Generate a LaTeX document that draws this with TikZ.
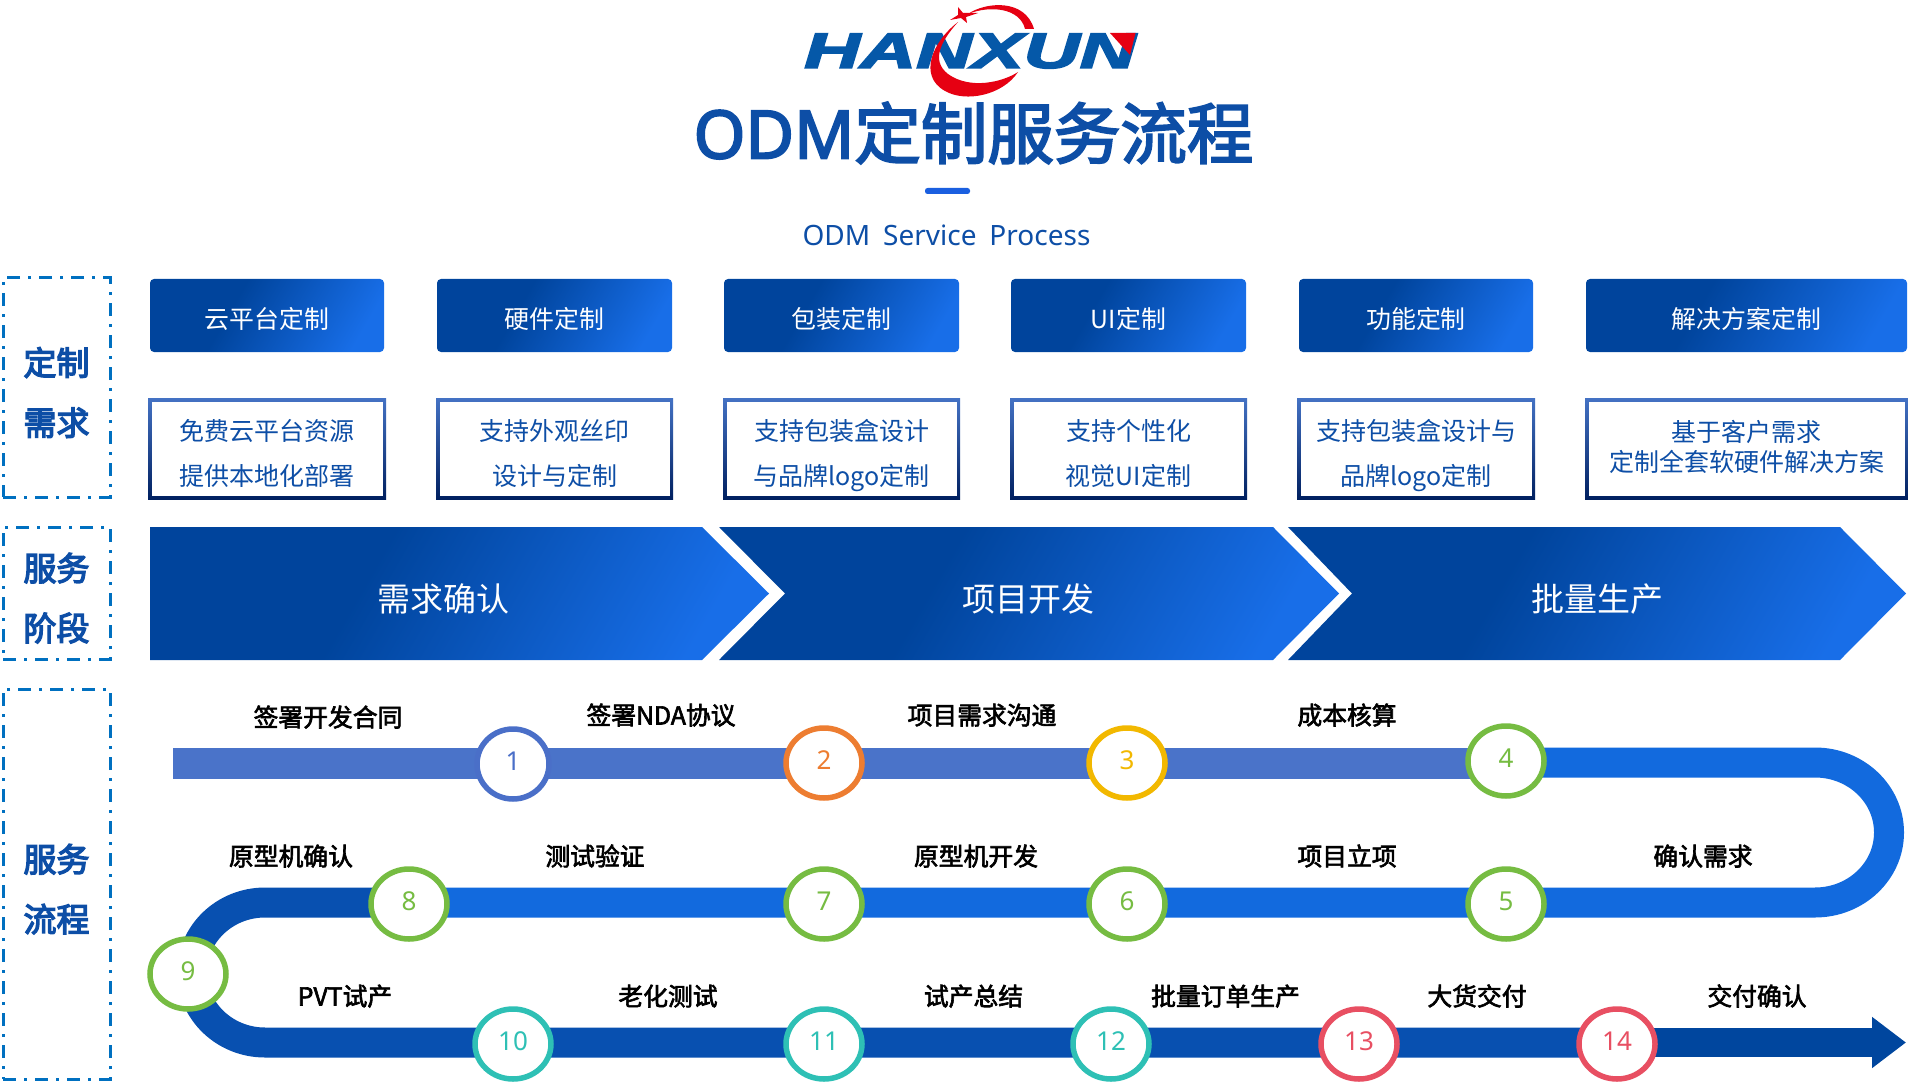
\documentclass[tikz,border=0pt]{standalone}
\usepackage{fontspec}
\setmainfont{Noto Sans CJK SC}
\newfontfamily\latinf{Noto Sans}
\newfontfamily\heavyf[FakeBold=2.5]{Noto Sans CJK SC}
\newfontfamily\sidef[FakeBold=4]{Noto Sans CJK SC}
\newfontfamily\titlef[FakeBold=3]{Noto Sans CJK SC}
\newfontfamily\titlelatinf[FakeBold=3]{Noto Sans}
\newfontfamily\logof[FakeBold=3]{Liberation Sans}
\usetikzlibrary{positioning, shapes.geometric, arrows.meta, backgrounds}

\definecolor{hxdark}{HTML}{00449C}
\definecolor{hxbright}{HTML}{186EE8}
\definecolor{hxtext}{HTML}{0D4EA6}
\definecolor{hxdash}{HTML}{0070C0}
\definecolor{hxred}{HTML}{E60012}
\definecolor{hxlogo}{HTML}{0558A8}
\definecolor{hxbar}{HTML}{1A5FE0}
\definecolor{ringtop}{HTML}{4472C4}
\definecolor{ringbot}{HTML}{002060}
\definecolor{rowone}{HTML}{4A73C9}
\definecolor{rowtwo}{HTML}{126ADE}
\definecolor{rowthree}{HTML}{0850B0}
\definecolor{rowend}{HTML}{00469E}
\definecolor{stepblue}{HTML}{4A6FC8}
\definecolor{steporange}{HTML}{ED7D31}
\definecolor{stepyellow}{HTML}{F2B800}
\definecolor{stepgreen}{HTML}{76BC42}
\definecolor{stepteal}{HTML}{2EC0B5}
\definecolor{stepred}{HTML}{E84F62}

\pgfdeclarehorizontalshading{hxband}{100bp}{color(0bp)=(hxdark); color(40bp)=(hxdark); color(76bp)=(hxbright); color(100bp)=(hxbright)}

\newcommand{\dropline}{\rule{0pt}{36pt}}
\newcommand{\dropnear}{\rule{0pt}{23pt}}
\newcommand{\dropend}{\rule[-7pt]{0pt}{7pt}}
\newcommand{\dropside}{\rule{0pt}{38pt}}

\begin{document}
\begin{tikzpicture}[
    x=1pt, y=-1pt,
    % Styles
    sidebox/.style={ % Dash-dotted frame on the left
        rectangle,
        draw=hxdash,
        line width=3pt,
        dash pattern=on 13pt off 8pt on 3pt off 8pt,
        minimum width=107pt,
        align=center,
        inner sep=0pt,
        text=hxtext,
        font=\sidef\fontsize{33}{60}\selectfont
    },
    kindbox/.style={ % Custom-made item
        rectangle,
        rounded corners=4pt,
        shade,
        shading=hxband,
        shading angle=-30,
        minimum height=73pt,
        inner sep=0pt,
        text=white,
        text height=28pt,
        text depth=3pt,
        font=\fontsize{24.9}{30}\selectfont
    },
    descbox/.style={ % Its description
        rectangle,
        top color=ringtop,
        bottom color=ringbot,
        minimum height=101pt,
        inner sep=0pt,
        align=center,
        text=hxtext,
        font=\fontsize{25}{45}\selectfont,
        path picture={
            \fill[white] ([shift={(3.5pt,3.5pt)}]path picture bounding box.south west)
                rectangle ([shift={(-3.5pt,-3.5pt)}]path picture bounding box.north east);
        }
    },
    stagetext/.style={
        text=white,
        text height=29pt,
        text depth=4pt,
        font=\fontsize{33}{36}\selectfont
    },
    stagefill/.style={
        shading=hxband,
        shading angle=-30
    },
    stepnode/.style={ % Numbered ring on the track
        ellipse,
        draw=#1,
        fill=white,
        line width=5.5pt,
        minimum width=76pt,
        minimum height=70pt,
        inner sep=0pt,
        text=#1,
        text depth=5pt,
        font=\latinf\fontsize{26}{30}\selectfont
    },
    steplabel/.style={
        text=black,
        text height=22pt,
        text depth=3pt,
        font=\heavyf\fontsize{24.8}{30}\selectfont
    },
    track/.style={
        line width=30pt,
        draw=#1
    }
]

    \useasboundingbox (0,0) rectangle (1908,1083);

    % Logo
    \node[text=hxlogo, xscale=1.55, font=\logof\fontsize{50}{50}\selectfont\bfseries\itshape] (logotext) at (970,51) {HANXUN};
    \fill[hxred] (958,22) .. controls (932,42) and (918,76) .. (945,91)
        .. controls (966,103) and (1003,95) .. (1018,72)
        .. controls (1003,82) and (970,90) .. (948,74)
        .. controls (930,60) and (942,40) .. (958,22);
    \fill[hxred] (968,14) .. controls (985,2) and (1025,-2) .. (1034,29)
        -- (1025,29) .. controls (1020,8) and (990,5) .. (968,14);
    \fill[hxred] (958,7) -- (963,13) -- (978,13) -- (966,17) -- (967,23) -- (961,18) -- (950,20) -- (958,15) -- cycle;
    \fill[hxred] (1110,33) -- (1135.5,33) -- (1130,55) -- cycle;

    % Title
    \node[text=hxtext, font=\titlef\fontsize{66.5}{70}\selectfont] (title) at (973.5,133) {{\titlelatinf ODM}定制服务流程};
    \fill[rounded corners=2.5pt, hxbar] (925,188) rectangle (970,194);
    \node[text=hxtext, font=\latinf\fontsize{28}{30}\selectfont] (subtitle) at (946.5,235) {ODM\hspace{0.2em} Service\hspace{0.2em} Process};

    % Left frames
    \node[sidebox, minimum height=219pt] (sideA) at (56.5,387.5) {\dropside 定制\\需求};
    \node[sidebox, minimum height=132pt] (sideB) at (56.5,593) {\dropside 服务\\阶段};
    \node[sidebox, minimum height=390pt] (sideC) at (56.5,884) {\dropside 服务\\流程};

    % Custom-made items
    \foreach \N/\X/\W/\T in {1/267/234/云平台定制, 2/554.5/235/硬件定制, 3/841.5/235/包装定制, 4/1128.5/235/UI定制, 5/1416/234/功能定制, 6/1746.5/321/解决方案定制} {
        \node[kindbox, minimum width=\W pt] (kind\N) at (\X,315.5) {\T};
    }

    % Descriptions
    \foreach \N/\X/\W/\T in {1/267/238/免费云平台资源\\提供本地化部署, 2/554.5/237/支持外观丝印\\设计与定制, 3/841.5/237/支持包装盒设计\\与品牌logo定制, 4/1128.5/237/支持个性化\\视觉UI定制, 5/1416/238/支持包装盒设计与\\品牌logo定制} {
        \node[descbox, minimum width=\W pt] (desc\N) at (\X,448.5) {\dropline \T\dropend};
    }
    \node[descbox, minimum width=323pt] (desc6) at (1746.5,448.5) {\dropnear 基于客户需求\\[-15pt]定制全套软硬件解决方案\dropend};

    % Stages
    \shade[stagefill] (150,527) -- (702,527) -- (769,593.5) -- (702,660) -- (150,660) -- cycle;
    \shade[stagefill] (719,527) -- (1273,527) -- (1339,593.5) -- (1273,660) -- (719,660) -- (785,593.5) -- cycle;
    \shade[stagefill] (1288,527) -- (1840,527) -- (1906,593.5) -- (1840,660) -- (1288,660) -- (1352,593.5) -- cycle;
    \node[stagetext] (stageA) at (443,598.5) {需求确认};
    \node[stagetext] (stageB) at (1028,598.5) {项目开发};
    \node[stagetext] (stageC) at (1597,598.5) {批量生产};

    % Numbered rings
    \node[stepnode=stepblue, minimum width=72pt] (c1) at (513,764) {1};
    \foreach \N/\X/\Y/\C in {2/824/763/steporange, 3/1127/763/stepyellow, 4/1506/761/stepgreen, 5/1506/904/stepgreen, 6/1127/904/stepgreen, 7/824/904/stepgreen, 8/409/904/stepgreen, 9/188/974/stepgreen, 10/513/1044/stepteal, 11/824/1044/stepteal, 12/1111/1044/stepteal, 13/1359/1044/stepred, 14/1617/1044/stepred} {
        \node[stepnode=\C] (c\N) at (\X,\Y) {\N};
    }

    % Track, behind the rings
    \coordinate (rowA) at (173,763.5);
    \coordinate (rowB) at (1815,762.5);
    \coordinate (rowC) at (265,902.5);
    \coordinate (rowD) at (265,1042.5);
    \coordinate (tip) at (1906,1042.5);
    \begin{scope}[on background layer]
        \draw[track=rowone, line width=31pt] (rowA) -- (rowA -| c4);
        \draw[track=rowtwo] (rowB -| c4) -- (rowB) arc[start angle=-90, end angle=90, x radius=74, y radius=70] -- (rowC -| c8);
        \draw[track=rowthree] (rowC -| c8) -- (rowC) arc[start angle=-90, end angle=-270, x radius=73, y radius=70] -- (rowD -| c14);
        \draw[track=rowend, line width=29pt, -{Triangle[length=34pt, width=49pt]}] (rowD -| c14) -- (tip);
    \end{scope}

    % Step labels
    \foreach \N/\X/\Y/\T in {1/328/717/签署开发合同, 2/661/715/签署NDA协议, 3/982/715/项目需求沟通, 4/1347/715/成本核算, 5/1703/856/确认需求, 6/1347/856/项目立项, 7/976/856/原型机开发, 8/595/856/测试验证, 9/291/856/原型机确认, 10/345/996/PVT试产, 11/668/996/老化测试, 12/973.5/996/试产总结, 13/1225.5/996/批量订单生产, 14/1477/996/大货交付, 15/1757/996/交付确认} {
        \node[steplabel] (label\N) at (\X,\Y) {\T};
    }
\end{tikzpicture}
\end{document}
